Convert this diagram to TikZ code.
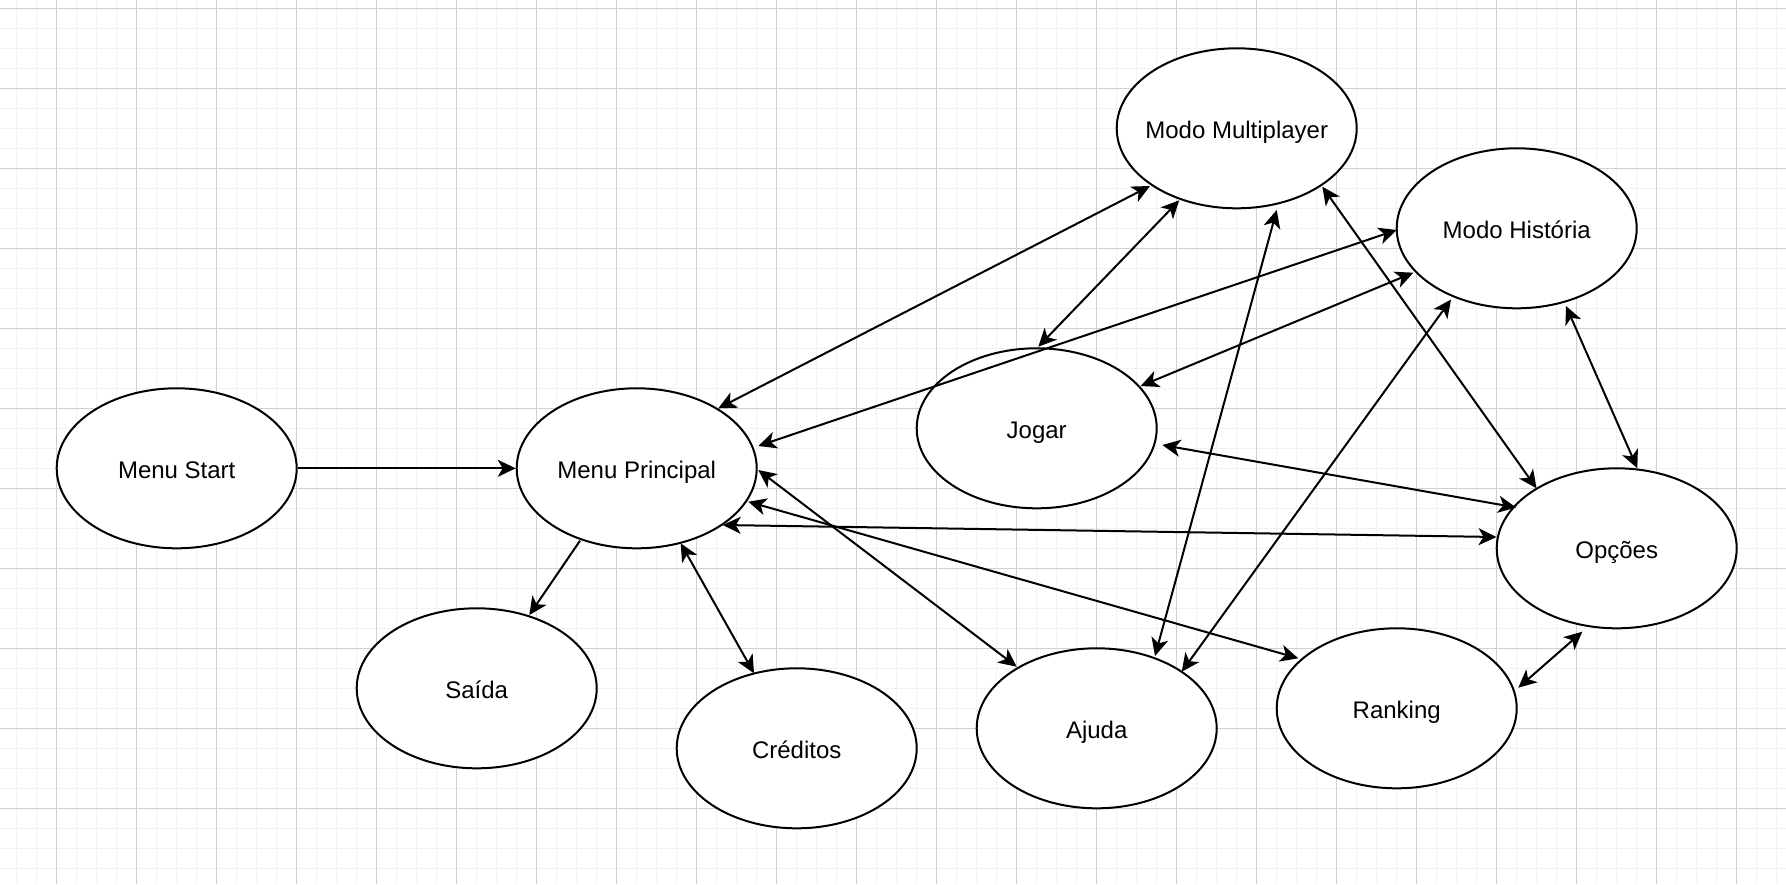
\documentclass[tikz,border=0pt]{standalone}
\usepackage{fontspec}
\setmainfont{Liberation Sans}
\usetikzlibrary{arrows.meta,shapes.geometric}
\definecolor{gridminor}{HTML}{F2F2F2}
\definecolor{gridmajor}{HTML}{D0D0D0}
\begin{document}
\begin{tikzpicture}[x=0.5pt,y=-0.5pt,
  >={Stealth[length=9pt,width=8.5pt,inset=2.5pt]},
  state/.style={ellipse, draw=black, line width=1pt, fill=white,
    minimum width=120pt, minimum height=80pt,
    inner xsep=-30pt, inner ysep=0pt, text height=12pt, text depth=2pt,
    font=\fontsize{12pt}{14pt}\selectfont},
  link/.style={line width=1pt, <->},
  onelink/.style={line width=1pt, ->}]

% canvas and background grid
\useasboundingbox (0,0) rectangle (1786,884);
\fill[white] (0,0) rectangle (1786,884);
\foreach \x in {16.7,36.7,...,1786} \draw[gridminor, line width=0.7pt] (\x,0) -- (\x,884);
\foreach \y in {8.3,28.3,...,884} \draw[gridminor, line width=0.7pt] (0,\y) -- (1786,\y);
\foreach \x in {56.7,136.7,...,1786} \draw[gridmajor, line width=0.5pt] (\x,0) -- (\x,884);
\foreach \y in {8.3,88.3,...,884} \draw[gridmajor, line width=0.5pt] (0,\y) -- (1786,\y);

% screens
\node[state] (ms) at (176.7,468.3) {Menu Start};
\node[state] (mp) at (636.7,468.3) {Menu Principal};
\node[state] (mm) at (1236.7,128.3) {Modo Multiplayer};
\node[state] (mh) at (1516.7,228.3) {Modo História};
\node[state] (jo) at (1036.7,428.3) {Jogar};
\node[state] (op) at (1616.7,548.3) {Opções};
\node[state] (sa) at (476.7,688.3) {Saída};
\node[state] (cr) at (796.7,748.3) {Créditos};
\node[state] (aj) at (1096.7,728.3) {Ajuda};
\node[state] (ra) at (1396.7,708.3) {Ranking};

% transitions
\draw[onelink] (ms.east) -- (mp.west);
\draw[onelink] ([shift={(-56.7,72.4)}]mp.center) -- ([shift={(52.6,-73.3)}]sa.center);
\draw[link] ([shift={(81.6,-60)}]mp.center) -- ([shift={(-86.7,57.7)}]mm.center);
\draw[link] ([shift={(121.6,-22.3)}]mp.center) -- ([shift={(-120,1.7)}]mh.center);
\draw[link] ([shift={(121.6,1.7)}]mp.center) -- ([shift={(-80,-61.6)}]aj.center);
\draw[link] ([shift={(111.6,33.4)}]mp.center) -- ([shift={(-98.4,-50)}]ra.center);
\draw[link] ([shift={(86,56.7)}]mp.center) -- ([shift={(-120.2,-11.3)}]op.center);
\draw[link] ([shift={(44,75)}]mp.center) -- ([shift={(-42.7,-75)}]cr.center);
\draw[link] ([shift={(1.6,-81.6)}]jo.center) -- ([shift={(-57.4,72)}]mm.center);
\draw[link] ([shift={(104,-42.3)}]jo.center) -- ([shift={(-103.4,44.4)}]mh.center);
\draw[link] ([shift={(125.6,16.7)}]jo.center) -- ([shift={(-100.5,-40.8)}]op.center);
\draw[link] ([shift={(58.3,-72.3)}]aj.center) -- ([shift={(40,81.7)}]mm.center);
\draw[link] ([shift={(85,-56.6)}]aj.center) -- ([shift={(-65.7,71.2)}]mh.center);
\draw[link] ([shift={(85.6,58.4)}]mm.center) -- ([shift={(-80.2,-60)}]op.center);
\draw[link] ([shift={(49.3,77.7)}]mh.center) -- ([shift={(20.6,-80)}]op.center);
\draw[link] ([shift={(121.6,-20.6)}]ra.center) -- ([shift={(-34.4,83.4)}]op.center);
\end{tikzpicture}
\end{document}
